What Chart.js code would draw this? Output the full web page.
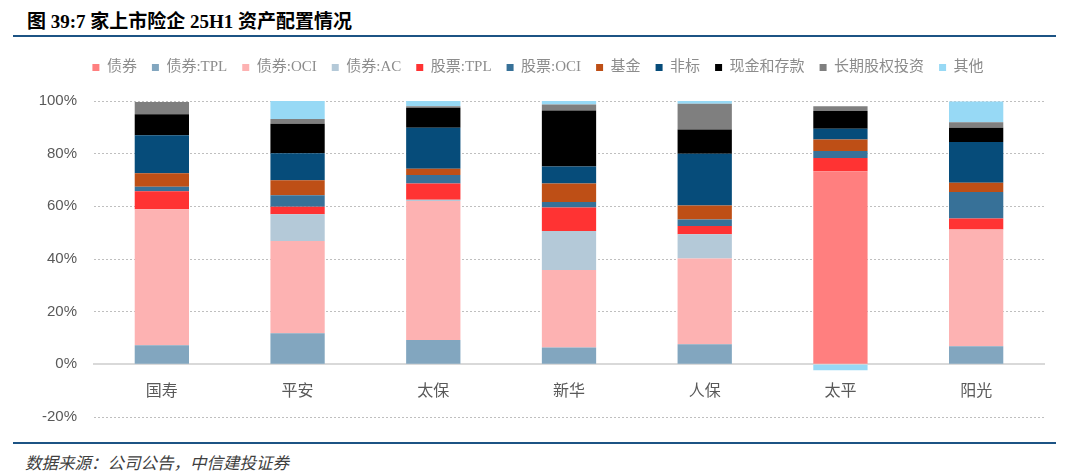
<!DOCTYPE html>
<html>
<head>
<meta charset="utf-8">
<script src="https://cdn.jsdelivr.net/npm/chart.js@4.4.1/dist/chart.umd.min.js"></script>
<style>
  body { margin: 0; background: #fff; width: 1080px; height: 476px; position: relative; overflow: hidden; }
  #title { position: absolute; left: 27px; top: 6px; font: bold 19px "Liberation Serif", "Noto Sans CJK SC", serif; color: #000; white-space: nowrap; }
  .rule { position: absolute; left: 13px; width: 1043px; height: 2px; background: #1C5384; }
  #box { position: absolute; left: 0; top: 40px; width: 1080px; height: 403px; }
  #src { position: absolute; left: 25px; top: 450px; font: italic 16.5px "Noto Sans CJK SC", sans-serif; color: #404040; white-space: nowrap; }
</style>
</head>
<body>
<div id="title">图 39:7 家上市险企 25H1 资产配置情况</div>
<div class="rule" style="top:35px"></div>
<div id="box"><canvas id="c"></canvas></div>
<div class="rule" style="top:442px"></div>
<div id="src">数据来源：公司公告，中信建投证券</div>
<script>
const companies = ['国寿', '平安', '太保', '新华', '人保', '太平', '阳光'];
const seriesNames = ['债券', '债券:TPL', '债券:OCI', '债券:AC', '股票:TPL', '股票:OCI', '基金', '非标', '现金和存款', '长期股权投资', '其他'];
const seriesColors = ['#FF7F7F', '#82A6BF', '#FDB2B2', '#B4C9D8', '#FF3333', '#377198', '#BE4F16', '#064C7A', '#000000', '#7F7F7F', '#97D9F5'];

// % of total assets
const bond     = [0, 0, 0, 0, 0, 73.3, 0];
const bondTPL  = [7.2, 11.8, 9.2, 6.4, 7.6, 0, 6.9];
const bondOCI  = [51.7, 35.0, 52.8, 29.4, 32.6, 0, 44.3];
const bondAC   = [0, 10.2, 0.5, 14.8, 9.2, 0, 0];
const stockTPL = [6.8, 2.8, 6.2, 9.0, 3.1, 5.1, 4.2];
const stockOCI = [1.7, 4.4, 3.2, 2.0, 2.5, 2.6, 10.0];
const fund     = [5.2, 5.7, 2.4, 7.1, 5.3, 4.4, 3.6];
const nonStd   = [14.4, 10.3, 15.5, 6.4, 19.7, 4.1, 15.4];
const cash     = [8.0, 11.2, 7.6, 21.3, 9.2, 6.7, 5.4];
const ltEquity = [4.6, 1.8, 0.6, 2.3, 9.8, 1.8, 2.1];
const other    = [0, 6.8, 2.0, 1.3, 1.0, -2.2, 7.9];

const yTicks = [-20, 0, 20, 40, 60, 80, 100];

const allSeries = [bond, bondTPL, bondOCI, bondAC, stockTPL, stockOCI, fund, nonStd, cash, ltEquity, other];

// extra room under the legend, and nudge it right (it is centred on the page, not the plot)
const legendTweak = {
    id: 'legendTweak',
    beforeInit(chart) {
        const fit = chart.legend.fit;
        chart.legend.fit = function () {
            fit.bind(chart.legend)();
            this.height += 16;
        };
    },
    afterLayout(chart) {
        chart.legend.left += 16;
        chart.legend.right += 16;
    }
};

const ctx = document.getElementById('c').getContext('2d');
new Chart(ctx, {
    type: 'bar',
    data: {
        labels: companies,
        datasets: allSeries.map((d, i) => ({
            label: seriesNames[i],
            data: d,
            backgroundColor: seriesColors[i],
            borderWidth: 0,
            categoryPercentage: 1,
            barPercentage: 0.4
        }))
    },
    options: {
        responsive: true,
        maintainAspectRatio: false,
        animation: false,
        layout: { padding: { left: 0, right: 36, top: 5, bottom: 11 } },
        plugins: {
            tooltip: { enabled: false },
            legend: {
                position: 'top',
                labels: {
                    boxWidth: 7,
                    boxHeight: 7,
                    padding: 15,
                    color: '#8C8C8C',
                    font: { size: 15, family: '"Liberation Serif", "Noto Sans CJK SC", serif' }
                }
            }
        },
        scales: {
            x: {
                stacked: true,
                position: { y: 0 },
                grid: { display: false, drawTicks: false },
                border: { color: '#D9D9D9', width: 2 },
                ticks: { color: '#595959', padding: 16, font: { size: 16, family: '"Noto Sans CJK SC", sans-serif' } }
            },
            y: {
                stacked: true,
                min: -20,
                max: 100,
                afterBuildTicks: s => { s.ticks = yTicks.map(v => ({ value: v })); },
                afterFit: s => { s.width = 94; },
                ticks: {
                    color: '#595959',
                    padding: 17,
                    font: { size: 15, family: '"Liberation Sans", sans-serif' },
                    callback: v => v + '%'
                },
                grid: { color: '#BFBFBF', drawTicks: false },
                border: { display: false, dash: [2, 2] }
            }
        }
    },
    plugins: [legendTweak]
});
</script>
</body>
</html>
